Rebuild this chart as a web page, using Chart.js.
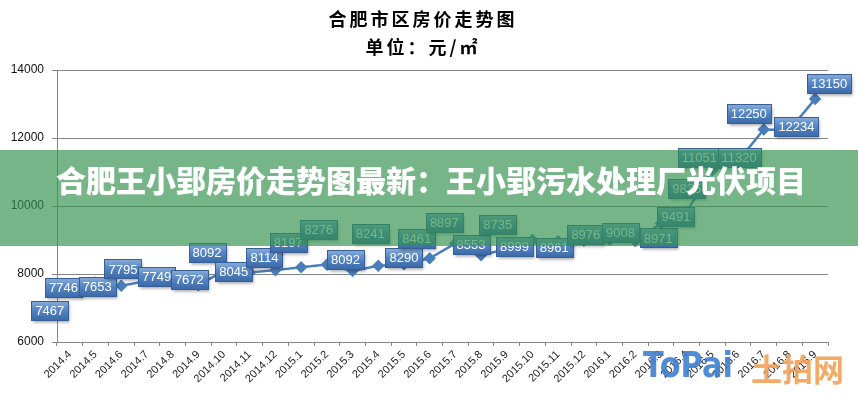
<!DOCTYPE html>
<html>
<head>
<meta charset="utf-8">
<script src="https://cdn.jsdelivr.net/npm/chart.js@4.4.1/dist/chart.umd.min.js"></script>
<style>
    html, body { margin: 0; padding: 0; background: #fff; }
    #wrap { width: 858px; height: 396px; }
</style>
</head>
<body>
<div id="wrap"><canvas id="priceChart"></canvas></div>
<script>
// Chart data - 合肥市区房价 (元/㎡)
const months = [
    '2014.4', '2014.5', '2014.6', '2014.7', '2014.8', '2014.9', '2014.10', '2014.11', '2014.12',
    '2015.1', '2015.2', '2015.3', '2015.4', '2015.5', '2015.6', '2015.7', '2015.8', '2015.9',
    '2015.10', '2015.11', '2015.12', '2016.1', '2016.2', '2016.3', '2016.4', '2016.5', '2016.6',
    '2016.7', '2016.8', '2016.9'
];
const prices = [
    7467, 7746, 7653, 7795, 7749, 7672, 8092, 8045, 8114,
    8197, 8276, 8092, 8241, 8290, 8461, 8897, 8553, 8735,
    8999, 8961, 8976, 9008, 8971, 9491, 9835, 11051, 11320,
    12250, 12234, 13150
];
const yTicks = [6000, 8000, 10000, 12000, 14000];
const titleLines = ['合肥市区房价走势图', '单位：元/㎡'];
const bannerText = '合肥王小郢房价走势图最新：王小郢污水处理厂光伏项目';

// where each value box sits relative to its point (px)
const labelShift = [
    [-20, 18], [-32, 5], [-24, 1], [-24, -12], [-16, -6], [-9, -6], [-17, -18], [-16, -1], [-11, -13],
    [-13, -25], [-8, -35], [-7, -11], [-8, -32], [0, -7], [-13, -20], [-11, -21], [-10, -11], [-9, -25],
    [-18, 6], [-4, 6], [2, -6], [11, -7], [23, -3], [15, -7], [0, -23], [-13, -13], [1, -4],
    [-15, -16], [7, -4], [14, -15]
];

const LINE_BLUE = '#4a7ebb';

function drawValueBoxes(chart) {
    const ctx = chart.ctx;
    const meta = chart.getDatasetMeta(0);
    ctx.save();
    ctx.font = '13px "Liberation Sans", Arial, sans-serif';
    ctx.textAlign = 'center';
    ctx.textBaseline = 'middle';
    meta.data.forEach((pt, i) => {
        const txt = String(prices[i]);
        const w = Math.round(ctx.measureText(txt).width) + 8;
        const h = 19;
        const cx = pt.x + labelShift[i][0];
        const cy = pt.y + labelShift[i][1];
        const x0 = Math.round(cx - w / 2) + 0.5;
        const y0 = Math.round(cy - h / 2) + 0.5;
        const grad = ctx.createLinearGradient(0, y0, 0, y0 + h);
        grad.addColorStop(0, '#86abd9');
        grad.addColorStop(0.45, '#5585c4');
        grad.addColorStop(1, '#3c6aa8');
        ctx.save();
        ctx.shadowColor = 'rgba(0,0,0,0.35)';
        ctx.shadowBlur = 3;
        ctx.shadowOffsetX = 1;
        ctx.shadowOffsetY = 2;
        ctx.fillStyle = grad;
        ctx.fillRect(x0, y0, w, h);
        ctx.restore();
        ctx.strokeStyle = '#375f94';
        ctx.lineWidth = 1;
        ctx.strokeRect(x0, y0, w, h);
        ctx.fillStyle = '#ffffff';
        ctx.fillText(txt, cx, cy + 1);
    });
    ctx.restore();
}

function drawTitle(chart) {
    const ctx = chart.ctx;
    ctx.save();
    ctx.fillStyle = '#000';
    ctx.font = 'bold 18px "Noto Sans CJK SC", sans-serif';
    ctx.textAlign = 'center';
    ctx.textBaseline = 'middle';
    ctx.letterSpacing = '3px';
    ctx.fillText(titleLines[0], 423, 19);
    ctx.fillText(titleLines[1], 423, 47);
    ctx.restore();
}

function drawBanner(chart) {
    const ctx = chart.ctx;
    ctx.save();
    ctx.fillStyle = 'rgba(52, 146, 80, 0.68)';
    ctx.fillRect(0, 150, chart.width, 96);
    ctx.fillStyle = '#ffffff';
    ctx.font = '900 30px "Noto Sans CJK SC", sans-serif';
    ctx.textAlign = 'center';
    ctx.textBaseline = 'middle';
    ctx.fillText(bannerText, 431, 181);
    ctx.restore();
}

function drawWatermark(chart) {
    const ctx = chart.ctx;
    ctx.save();
    ctx.globalAlpha = 0.9;
    ctx.textBaseline = 'middle';
    ctx.textAlign = 'left';
    ctx.font = 'bold 36px "DejaVu Sans", sans-serif';
    const tw = ctx.measureText('ToPai').width;
    ctx.translate(643, 368);
    ctx.scale(90 / tw, 1);
    ctx.fillStyle = '#3f7fcf';
    ctx.fillText('ToPai', 0, 0);
    ctx.restore();

    ctx.save();
    ctx.globalAlpha = 0.9;
    ctx.fillStyle = '#f0a156';
    ctx.font = 'bold 31px "Noto Sans CJK SC", sans-serif';
    ctx.textBaseline = 'middle';
    ctx.textAlign = 'left';
    ctx.fillText('土拍网', 751, 369);
    ctx.restore();
}

const overlayPlugin = {
    id: 'overlay',
    afterDatasetsDraw(chart) {
        drawValueBoxes(chart);
    },
    afterDraw(chart) {
        drawTitle(chart);
        drawBanner(chart);
        drawWatermark(chart);
    }
};

function createPriceChart(canvasId) {
    const ctx = document.getElementById(canvasId);
    return new Chart(ctx, {
        type: 'line',
        data: {
            labels: months,
            datasets: [{
                label: '房价',
                data: prices,
                borderColor: LINE_BLUE,
                backgroundColor: LINE_BLUE,
                borderWidth: 2.5,
                pointStyle: 'rectRot',
                pointRadius: 4.5,
                pointBackgroundColor: LINE_BLUE,
                pointBorderColor: LINE_BLUE,
                tension: 0
            }]
        },
        options: {
            responsive: true,
            maintainAspectRatio: false,
            animation: false,
            layout: {
                padding: { top: 70, right: 30, bottom: 0, left: 0 }
            },
            plugins: {
                legend: { display: false },
                title: { display: false },
                tooltip: { enabled: false }
            },
            scales: {
                x: {
                    offset: true,
                    grid: {
                        offset: true,
                        drawOnChartArea: false,
                        drawTicks: true,
                        tickLength: 4,
                        color: '#868686'
                    },
                    border: { color: '#868686' },
                    ticks: {
                        autoSkip: false,
                        minRotation: 45,
                        maxRotation: 45,
                        padding: 2,
                        color: '#222',
                        font: { family: '"Liberation Sans", Arial, sans-serif', size: 11 }
                    },
                    afterFit: (scale) => { scale.height = 54; }
                },
                y: {
                    min: yTicks[0],
                    max: yTicks[yTicks.length - 1],
                    afterBuildTicks: (scale) => {
                        scale.ticks = yTicks.map(v => ({ value: v }));
                    },
                    grid: {
                        color: '#868686',
                        tickLength: 5
                    },
                    border: { color: '#868686' },
                    ticks: {
                        padding: 8,
                        color: '#111',
                        font: { family: '"Liberation Sans", Arial, sans-serif', size: 12 },
                        callback: (v) => String(v)
                    },
                    afterFit: (scale) => { scale.width = 57; }
                }
            }
        },
        plugins: [overlayPlugin]
    });
}

document.addEventListener('DOMContentLoaded', () => createPriceChart('priceChart'));
</script>
</body>
</html>
